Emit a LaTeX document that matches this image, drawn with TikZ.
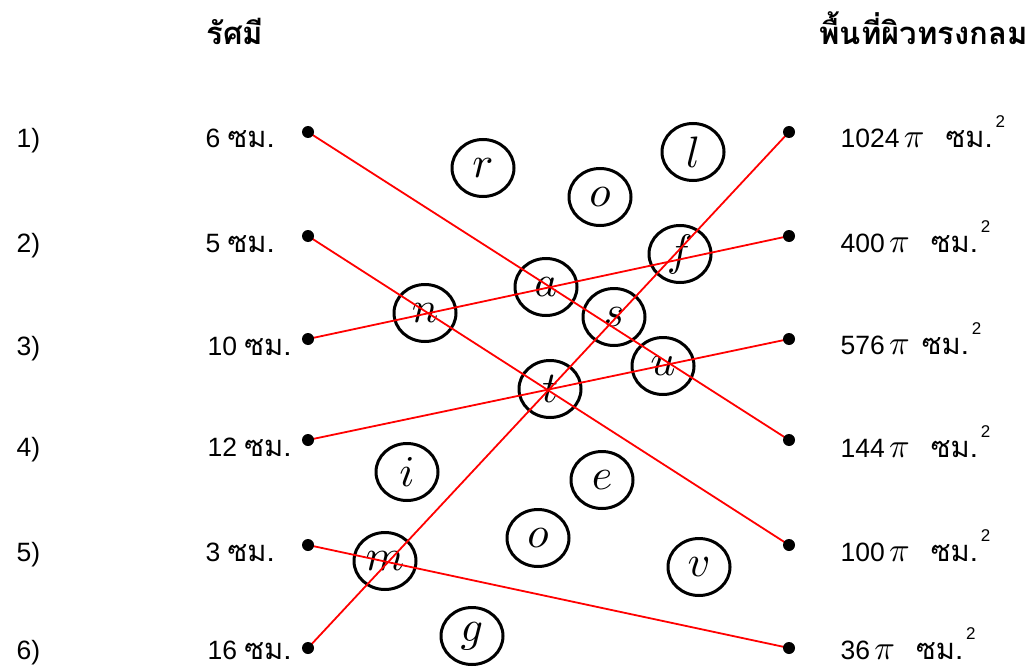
\documentclass[tikz,border=0pt]{standalone}
\usepackage{fontspec}
\setmainfont{Liberation Sans}
\newfontfamily\thaifont[Script=Thai, Scale=1.1]{Loma}
\DeclareFontShape{OML}{cmm}{m}{it}{<->cmmi10}{}
\usetikzlibrary{shapes.geometric, positioning}

\newcommand{\unitcm}{{\thaifont ซม.}}
\newcommand{\piunit}{{\fontsize{34}{34}\selectfont$\pi$}}
\newcommand{\sqcm}{\unitcm\hspace{3pt}\raisebox{20pt}{\fontsize{17}{17}\selectfont 2}}

\begin{document}
\begin{tikzpicture}[
    x=1pt, y=-1pt,
    every node/.style={font=\fontsize{26.5}{26.5}\selectfont},
    dot/.style={circle, fill=black, inner sep=0pt, minimum size=12pt},
    letter/.style={
        ellipse, draw, line width=3pt, inner sep=0pt,
        minimum width=62pt, minimum height=57pt,
        font=\fontsize{44}{44}\selectfont
    },
    match/.style={draw=red, line width=1.8pt},
    head/.style={anchor=base west, font=\fontsize{28.2}{28.2}\selectfont\thaifont\bfseries},
    val/.style={anchor=base west}
]
    \useasboundingbox (0,0) rectangle (1032,671);

    % headings
    \node [head] (hradius) at (203,45)  {รัศมี};
    \node [head] (harea)   at (816,45)  {พื้นที่ผิวทรงกลม};

    % row numbers
    \foreach \n/\y in {1/132, 2/236, 3/339, 4/440, 5/545, 6/643}
        \node [val] (num\n) at (13,\y+16) {\n)};

    % radii
    \node [val] (rad1) at (202,148) {6 \unitcm};
    \node [val] (rad2) at (202,252) {5 \unitcm};
    \node [val] (rad3) at (204,355) {10 \unitcm};
    \node [val] (rad4) at (204,456) {12 \unitcm};
    \node [val] (rad5) at (202,561) {3 \unitcm};
    \node [val] (rad6) at (204,659) {16 \unitcm};

    % areas
    \node [val] (area1) at (837,148) {1024\,\piunit\hspace{21pt}\sqcm};
    \node [val] (area2) at (837,252) {400\,\piunit\hspace{21pt}\sqcm};
    \node [val] (area3) at (837,354) {576\,\piunit\hspace{12pt}\sqcm};
    \node [val] (area4) at (837,457) {144\,\piunit\hspace{21pt}\sqcm};
    \node [val] (area5) at (837,561) {100\,\piunit\hspace{21pt}\sqcm};
    \node [val] (area6) at (837,659) {36\,\piunit\hspace{21pt}\sqcm};

    % letter circles
    \node [letter] (cr)  at (483,168) {$r$};
    \node [letter] (co1) at (600,197) {$o$};
    \node [letter] (cl)  at (693,152) {$l$};
    \node [letter] (cf)  at (680,254) {$f$};
    \node [letter] (ca)  at (546,287) {$a$};
    \node [letter] (cn)  at (425,313) {$n$};
    \node [letter] (cs)  at (614,317) {$s$};
    \node [letter] (cu)  at (663,366) {$u$};
    \node [letter] (ct)  at (550,389) {$t$};
    \node [letter] (ci)  at (407,472) {$i$};
    \node [letter] (ce)  at (602,480) {$e$};
    \node [letter] (co2) at (538,538) {$o$};
    \node [letter] (cm)  at (385,561) {$m$};
    \node [letter] (cv)  at (699,567) {$v$};
    \node [letter] (cg)  at (472,636) {$g$};

    % dots
    \foreach \n/\y in {1/132, 2/236, 3/339, 4/440, 5/545, 6/648} {
        \coordinate (L\n) at (308,\y);
        \coordinate (R\n) at (789,\y);
    }

    % matching lines
    \path [match] (L1) -- (R4);
    \path [match] (L2) -- (R5);
    \path [match] (L3) -- (R2);
    \path [match] (L4) -- (R3);
    \path [match] (L5) -- (R6);
    \path [match] (L6) -- (R1);

    \foreach \n in {1,...,6} {
        \node [dot] (dl\n) at (L\n) {};
        \node [dot] (dr\n) at (R\n) {};
    }
\end{tikzpicture}
\end{document}
